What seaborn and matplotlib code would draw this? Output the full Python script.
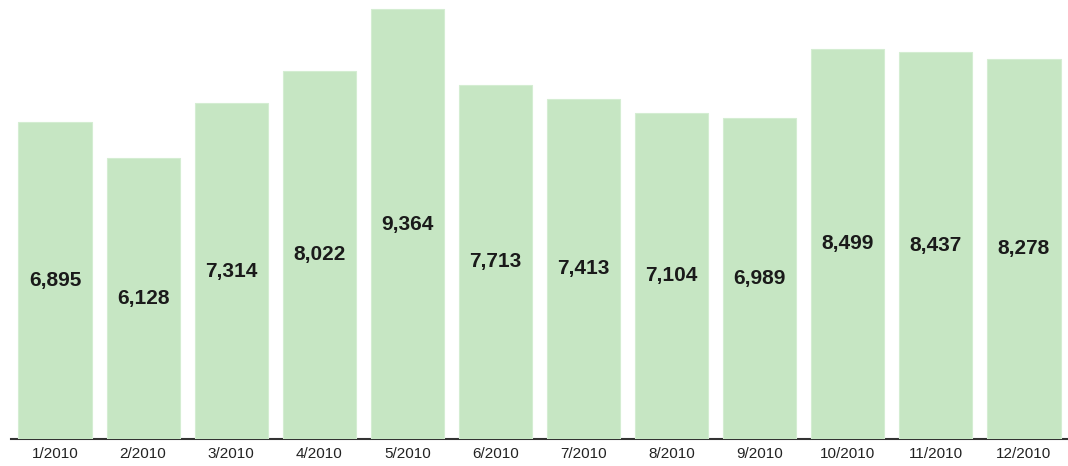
import seaborn as sns
import pandas as pd
import matplotlib.pyplot as plt

months = ["1/2010", "2/2010", "3/2010", "4/2010", "5/2010", "6/2010",
          "7/2010", "8/2010", "9/2010", "10/2010", "11/2010", "12/2010"]
counts = [6895, 6128, 7314, 8022, 9364, 7713, 7413, 7104, 6989, 8499, 8437, 8278]

df = pd.DataFrame({"Month": months, "Count": counts})

sns.set_style("white")
plt.rcParams['font.family'] = ['Liberation Sans', 'DejaVu Sans']

fig = plt.figure(figsize=(10.68, 4.66), dpi=100)
ax = fig.add_axes([11 / 1068, 27 / 466, 1057 / 1068, 439 / 466])

sns.barplot(data=df, x="Month", y="Count", color="#c6e6c3", saturation=1,
            width=0.83, edgecolor="#d4edd2", linewidth=0.8, ax=ax, zorder=3)

for i, v in enumerate(counts):
    ax.text(i, v / 2, f"{v:,}", ha="center", va="center",
            fontsize=15, fontweight="bold", color="#1a1a1a", zorder=4)

ax.set_xlim(-0.5, 11.5)
ax.set_ylim(0, 9364 * 439 / 430)
ax.set_xlabel("")
ax.set_ylabel("")
ax.set_yticks([])
ax.tick_params(axis="x", length=0, pad=5.5, labelsize=11, labelcolor="#222222")
for s in ["top", "right", "left"]:
    ax.spines[s].set_visible(False)
ax.spines["bottom"].set_color("#333333")
ax.spines["bottom"].set_linewidth(1.5)
ax.spines["bottom"].set_zorder(1)

plt.savefig("out.png", dpi=100)
